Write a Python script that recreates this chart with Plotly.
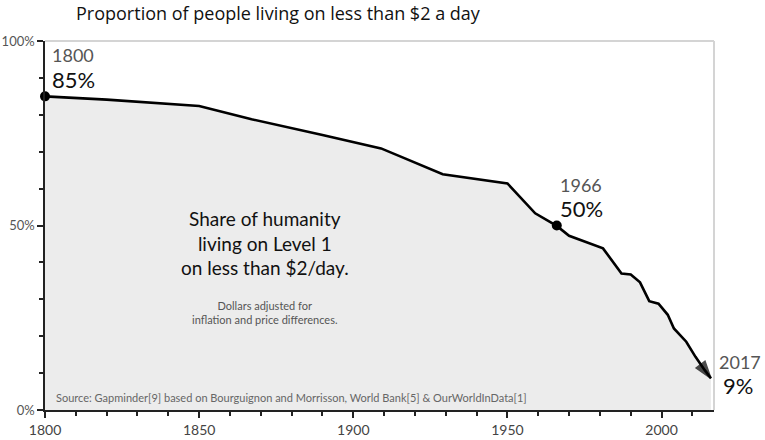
import plotly.graph_objects as go

years = [1800, 1820, 1850, 1867, 1890, 1909, 1915, 1929, 1950, 1959, 1966, 1970,
         1981, 1987, 1990, 1993, 1996, 1999, 2002, 2004, 2008, 2011, 2014, 2016]
share = [85.0, 84.1, 82.4, 78.8, 74.5, 70.9, 68.8, 63.9, 61.4, 53.3, 49.9, 47.2,
         43.8, 37.0, 36.7, 34.6, 29.5, 28.8, 25.8, 22.1, 18.5, 14.4, 10.8, 8.6]

highlight_years = [1800, 1966]
highlight_vals = [85, 50]
end_year = 2017
end_val = 9

x_ticks = [1800, 1850, 1900, 1950, 2000]
y_ticks = [0, 50, 100]
y_tick_text = ["0%", "50%", "100%"]

FONT = "Lato"

fig = go.Figure()

fig.add_trace(go.Scatter(
    x=years, y=share, mode="lines", fill="tozeroy",
    fillcolor="#ececec", line=dict(color="black", width=2.6),
    hoverinfo="skip", showlegend=False,
))
# arrow head at the end
fig.add_trace(go.Scatter(
    x=years[-2:], y=share[-2:], mode="markers",
    marker=dict(symbol="arrow", angleref="previous", size=[0, 18], color="black",
                line=dict(color="black", width=1.5)),
    cliponaxis=False, hoverinfo="skip", showlegend=False,
))
fig.add_trace(go.Scatter(
    x=highlight_years, y=highlight_vals, mode="markers",
    marker=dict(size=10, color="black"), cliponaxis=False,
    hoverinfo="skip", showlegend=False,
))

annos = []
for yr, val, dx, dy1, dy2 in [(1800, 85, 5, 41, 17), (1966, 50, 1, 41, 17)]:
    annos.append(dict(x=yr, y=val, xref="x", yref="y", text=str(yr), showarrow=False,
                      xanchor="left", yanchor="middle", xshift=dx, yshift=dy1,
                      font=dict(family=FONT, size=18, color="#555")))
    annos.append(dict(x=yr, y=val, xref="x", yref="y", text=f"{val}%", showarrow=False,
                      xanchor="left", yanchor="middle", xshift=dx, yshift=dy2,
                      font=dict(family=FONT, size=22, color="#111")))
annos.append(dict(x=end_year, y=end_val, xref="x", yref="y", text=str(end_year), showarrow=False,
                  xanchor="left", yanchor="middle", xshift=3, yshift=15,
                  font=dict(family=FONT, size=18, color="#555")))
annos.append(dict(x=end_year, y=end_val, xref="x", yref="y", text=f"{end_val}%", showarrow=False,
                  xanchor="left", yanchor="middle", xshift=7, yshift=-9,
                  font=dict(family=FONT, size=22, color="#111")))

annos.append(dict(x=1871.3, y=45.3, xref="x", yref="y",
                  text="Share of humanity<br>living on Level 1<br>on less than $2/day.",
                  showarrow=False, xanchor="center", yanchor="middle",
                  font=dict(family=FONT, size=19, color="#111")))
annos.append(dict(x=1871.3, y=26.4, xref="x", yref="y",
                  text="Dollars adjusted for<br>inflation and price differences.",
                  showarrow=False, xanchor="center", yanchor="middle",
                  font=dict(family=FONT, size=11, color="#555")))
annos.append(dict(x=0, y=0, xref="paper", yref="paper",
                  text="Source: Gapminder[9] based on Bourguignon and Morrisson, World Bank[5] & OurWorldInData[1]",
                  showarrow=False, xanchor="left", yanchor="middle", xshift=9, yshift=13,
                  font=dict(family=FONT, size=11, color="#666")))
annos.append(dict(x=0, y=1, xref="paper", yref="paper",
                  text="Proportion of people living on less than $2 a day",
                  showarrow=False, xanchor="left", yanchor="middle", xshift=29, yshift=28,
                  font=dict(family="Open Sans", size=18, color="#111")))

fig.update_layout(
    width=765, height=440,
    margin=dict(l=45, r=51, t=41, b=30),
    paper_bgcolor="white", plot_bgcolor="white",
    annotations=annos,
    shapes=[
        dict(type="line", xref="paper", yref="paper", x0=0, x1=1, y0=1, y1=1,
             line=dict(color="#d4d4d4", width=2)),
        dict(type="line", xref="paper", yref="paper", x0=1, x1=1, y0=0, y1=1,
             line=dict(color="#d4d4d4", width=2)),
    ],
)
fig.update_xaxes(
    range=[1800, 2017], tickvals=x_ticks, ticks="outside", ticklen=6, tickwidth=1.5,
    tickcolor="#222", showline=True, linecolor="#222", linewidth=1.5,
    showgrid=False, zeroline=False, automargin=False,
    minor=dict(dtick=10, tick0=1800, ticks="outside", ticklen=4, tickcolor="#222", tickwidth=1.5),
    tickfont=dict(family=FONT, size=14, color="#444"),
)
fig.update_yaxes(
    range=[0, 100], tickvals=y_ticks, ticktext=y_tick_text, ticks="outside", ticklen=6,
    tickwidth=1.5, tickcolor="#222", showline=True, linecolor="#222", linewidth=1.5,
    showgrid=False, zeroline=False, automargin=False,
    minor=dict(dtick=10, tick0=0, ticks="outside", ticklen=4, tickcolor="#222", tickwidth=1.5),
    tickfont=dict(family=FONT, size=13, color="#555"),
)

fig.write_html("out.html", config={"displayModeBar": False},
               post_script="document.body.style.margin='0';")
